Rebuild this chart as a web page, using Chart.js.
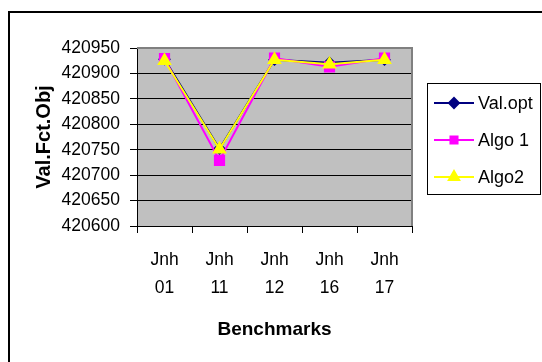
<!DOCTYPE html>
<html>
<head>
<meta charset="utf-8">
<script src="https://cdn.jsdelivr.net/npm/chart.js@4/dist/chart.umd.min.js"></script>
<style>
    body { margin: 0; background: #fff; }
    #wrap { width: 542px; height: 362px; }
</style>
</head>
<body>
<div id="wrap"><canvas id="benchChart" width="542" height="362"></canvas></div>
<script>
    "use strict";

    // benchmark names (two lines each) and objective values per method
    const categories = [['Jnh', '01'], ['Jnh', '11'], ['Jnh', '12'], ['Jnh', '16'], ['Jnh', '17']];
    const valOpt = [420928, 420752, 420927, 420921, 420927];
    const algo1 = [420929, 420729, 420930, 420913, 420930];
    const algo2 = [420925, 420751, 420927, 420918, 420927];
    const yMin = 420600;
    const yMax = 420950;
    const yStep = 50;

    const FONT = "'Liberation Sans', Arial, sans-serif";

    // grey plot area with the darker top/right frame
    const plotArea = {
        id: 'plotArea',
        beforeDraw(chart) {
            const { ctx, chartArea: a } = chart;
            ctx.save();
            ctx.fillStyle = '#c0c0c0';
            ctx.fillRect(a.left, a.top, a.right - a.left, a.bottom - a.top);
            ctx.restore();
        },
        beforeDatasetsDraw(chart) {
            const { ctx, chartArea: a } = chart;
            ctx.save();
            ctx.strokeStyle = '#808080';
            ctx.lineWidth = 2;
            ctx.beginPath();
            ctx.moveTo(a.left, a.top);
            ctx.lineTo(a.right, a.top);
            ctx.lineTo(a.right, a.bottom);
            ctx.stroke();
            ctx.restore();
        },
        afterDraw(chart) {
            const ctx = chart.ctx;
            ctx.save();
            // outer frame
            ctx.strokeStyle = '#000';
            ctx.lineWidth = 2;
            ctx.strokeRect(9, 12, 600, 400);
            ctx.restore();
        }
    };

    // boxed legend on the right
    const sideLegend = {
        id: 'sideLegend',
        afterDraw(chart) {
            const ctx = chart.ctx;
            ctx.save();
            ctx.strokeStyle = '#000';
            ctx.lineWidth = 1;
            ctx.strokeRect(427.5, 83.5, 113, 111);
            ctx.font = '18px ' + FONT;
            ctx.textBaseline = 'middle';
            chart.data.datasets.forEach((ds, i) => {
                const y = 103 + i * 37;
                ctx.strokeStyle = ds.borderColor;
                ctx.lineWidth = 2;
                ctx.beginPath();
                ctx.moveTo(434, y);
                ctx.lineTo(474, y);
                ctx.stroke();
                ctx.fillStyle = ds.pointBackgroundColor;
                Chart.helpers.drawPoint(ctx, {
                    pointStyle: ds.pointStyle,
                    radius: ds.legendRadius,
                    rotation: 0,
                    borderWidth: 1
                }, 454, y);
                ctx.fillStyle = '#000';
                ctx.fillText(ds.label, 478, y + 1);
            });
            ctx.restore();
        }
    };

    new Chart(document.getElementById('benchChart'), {
        type: 'line',
        data: {
            labels: categories,
            datasets: [{
                label: 'Val.opt',
                data: valOpt,
                borderColor: '#000080',
                pointBackgroundColor: '#000080',
                pointBorderColor: '#000080',
                pointStyle: 'rectRot',
                pointRadius: 5,
                legendRadius: 5,
                borderWidth: 2,
                order: 2
            }, {
                label: 'Algo 1',
                data: algo1,
                borderColor: '#ff00ff',
                pointBackgroundColor: '#ff00ff',
                pointBorderColor: '#ff00ff',
                pointStyle: 'rect',
                pointRadius: 6.5,
                legendRadius: 5,
                borderWidth: 2,
                order: 1
            }, {
                label: 'Algo2',
                data: algo2,
                borderColor: '#ffff00',
                pointBackgroundColor: '#ffff00',
                pointBorderColor: '#ffff00',
                pointStyle: 'triangle',
                pointRadius: 6.5,
                legendRadius: 6,
                borderWidth: 2,
                order: 0
            }]
        },
        options: {
            responsive: false,
            animation: false,
            tension: 0,
            layout: { padding: { left: 0, top: 48, right: 130, bottom: 0 } },
            plugins: {
                legend: { display: false },
                tooltip: { enabled: false }
            },
            scales: {
                x: {
                    offset: true,
                    afterFit(scale) { scale.height = 136; },
                    grid: {
                        offset: true,
                        drawOnChartArea: false,
                        color: '#000',
                        tickLength: 7
                    },
                    border: { color: '#000', width: 1 },
                    ticks: {
                        color: '#000',
                        padding: 14,
                        maxRotation: 0,
                        font: { family: FONT, size: 17.5, lineHeight: 1.55 }
                    },
                    title: {
                        display: true,
                        text: 'Benchmarks',
                        color: '#000',
                        padding: { top: 0, bottom: 21 },
                        font: { family: FONT, size: 19, weight: 'bold', lineHeight: 1.2 }
                    }
                },
                y: {
                    min: yMin,
                    max: yMax,
                    afterFit(scale) { scale.width = 137; },
                    grid: {
                        color: '#000',
                        tickLength: 7
                    },
                    border: { color: '#000', width: 1 },
                    ticks: {
                        stepSize: yStep,
                        color: '#000',
                        padding: 10,
                        font: { family: FONT, size: 17.5 },
                        callback: (v) => String(v)
                    },
                    title: {
                        display: true,
                        text: 'Val.Fct.Obj',
                        color: '#000',
                        padding: { top: 32, bottom: 0 },
                        font: { family: FONT, size: 20, weight: 'bold', lineHeight: 1.2 }
                    }
                }
            }
        },
        plugins: [plotArea, sideLegend]
    });
</script>
</body>
</html>
